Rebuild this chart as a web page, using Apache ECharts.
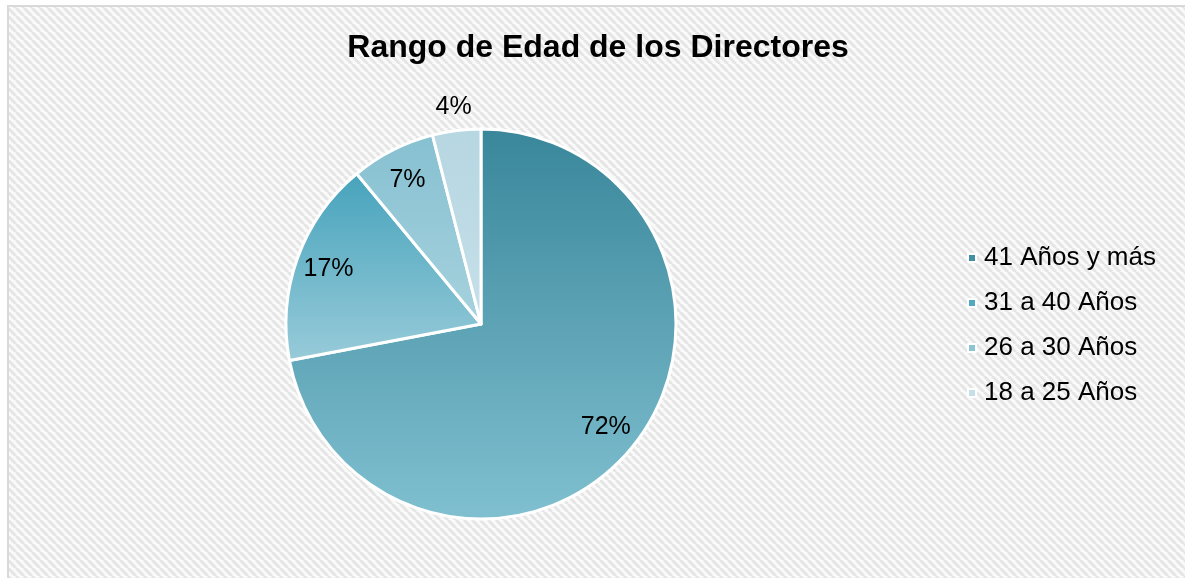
<!DOCTYPE html>
<html>
<head>
<meta charset="utf-8">
<script src="https://cdn.jsdelivr.net/npm/echarts@6/dist/echarts.min.js"></script>
<style>
  html, body { margin: 0; padding: 0; background: #fff; }
  #chart { width: 1185px; height: 578px; }
</style>
</head>
<body>
<div id="chart"></div>
<script>
// datos del gráfico
const categorias = ['41 Años y más', '31 a 40 Años', '26 a 30 Años', '18 a 25 Años'];
const porcentajes = [72, 17, 7, 4];
const titulo = 'Rango de Edad de los Directores';

// colores degradados (arriba oscuro, abajo claro)
const coloresArriba = ['#39869a', '#46a3bc', '#86c0d1', '#b6d6e1'];
const coloresAbajo = ['#80c0d0', '#98cbd9', '#a7d2de', '#c6e0e9'];
const coloresLeyenda = ['#418fa2', '#52a9c0', '#8cc4d4', '#c4dfe8'];

function degradado(i) {
  return new echarts.graphic.LinearGradient(0, 0, 0, 1, [
    { offset: 0, color: coloresArriba[i] },
    { offset: 1, color: coloresAbajo[i] }
  ]);
}

// trama diagonal del fondo
const tile = document.createElement('canvas');
tile.width = 8; tile.height = 8;
const ctx = tile.getContext('2d');
ctx.fillStyle = '#fafafa';
ctx.fillRect(0, 0, 8, 8);
ctx.strokeStyle = '#e5e5e5';
ctx.lineWidth = 3;
[-8, 0, 8].forEach(function (o) {
  ctx.beginPath();
  ctx.moveTo(o, 0);
  ctx.lineTo(o + 8, 8);
  ctx.stroke();
});

const chart = echarts.init(document.getElementById('chart'), null, { renderer: 'canvas' });

const visibles = categorias.map(function (c, i) {
  return { name: c, value: porcentajes[i], itemStyle: { color: degradado(i) } };
});

const etiqueta = {
  show: true,
  position: 'inside',
  formatter: '{c}%',
  fontFamily: 'Liberation Sans',
  fontSize: 25,
  color: '#000'
};

const option = {
  animation: false,
  graphic: [{
    type: 'rect',
    z: -10,
    silent: true,
    shape: { x: 8, y: 6, width: 1190, height: 590 },
    style: { fill: { image: tile, repeat: 'repeat' }, stroke: '#d9d9d9', lineWidth: 2 }
  }],
  title: {
    text: titulo,
    left: 593,
    top: 27,
    textAlign: 'center',
    textStyle: { fontFamily: 'Liberation Sans', fontSize: 32, fontWeight: 'bold', color: '#000' }
  },
  legend: {
    orient: 'vertical',
    left: 962,
    top: 240,
    itemWidth: 8,
    itemHeight: 8,
    itemGap: 19,
    icon: 'rect',
    data: categorias.map(function (c, i) {
      return { name: c, itemStyle: { color: coloresLeyenda[i] } };
    }),
    textStyle: { fontFamily: 'Liberation Sans', fontSize: 26, color: '#000', padding: [0, 0, 0, 3] }
  },
  series: [
    {
      type: 'pie',
      center: [481, 324],
      radius: [0, 195],
      startAngle: 90,
      clockwise: true,
      itemStyle: { borderColor: '#fff', borderWidth: 3 },
      label: { show: false },
      labelLine: { show: false },
      data: visibles
    },
    {
      // capa invisible para las etiquetas interiores
      type: 'pie',
      center: [481, 324],
      radius: [0, 318],
      startAngle: 90,
      silent: true,
      legendHoverLink: false,
      itemStyle: { color: 'rgba(0,0,0,0)' },
      label: etiqueta,
      labelLine: { show: false },
      data: categorias.map(function (c, i) {
        return { name: c, value: porcentajes[i], label: { show: i < 3 } };
      })
    },
    {
      // etiqueta exterior del sector pequeño
      type: 'pie',
      center: [481, 324],
      radius: [206, 226],
      startAngle: 90,
      silent: true,
      legendHoverLink: false,
      itemStyle: { color: 'rgba(0,0,0,0)' },
      label: etiqueta,
      labelLine: { show: false },
      data: categorias.map(function (c, i) {
        return { name: c, value: porcentajes[i], label: { show: i === 3 } };
      })
    }
  ]
};

chart.setOption(option);
</script>
</body>
</html>
